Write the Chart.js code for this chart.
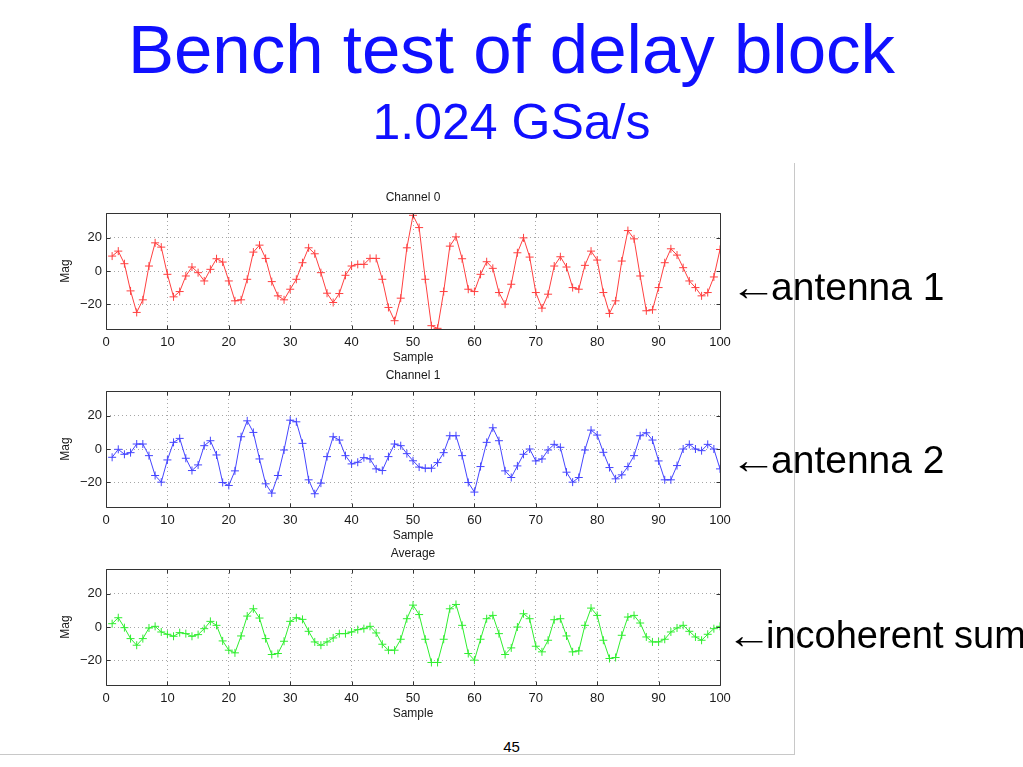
<!DOCTYPE html>
<html>
<head>
<meta charset="utf-8">
<title>Bench test of delay block</title>
<script src="https://cdn.jsdelivr.net/npm/chart.js@4.4.1/dist/chart.umd.min.js"></script>
<style>
  html, body { margin: 0; padding: 0; background: #fff; }
  body { width: 1023px; height: 767px; position: relative; overflow: hidden;
         font-family: 'Liberation Sans', Arial, Helvetica, sans-serif; }
  .title { position: absolute; left: 0; width: 1023px; text-align: center; color: #1010ff; line-height: 1; white-space: nowrap; }
  .main-title { top: 15px; font-size: 69px; }
  .sub-title { top: 97px; font-size: 50px; }
  .note { position: absolute; font-size: 39px; line-height: 1; color: #000; white-space: nowrap; }
  .note .arrow { display: inline-block; transform: scaleX(1.2); transform-origin: left center; margin-right: 2px; }
  .page-num { position: absolute; left: 0; width: 1023px; text-align: center; top: 739px; font-size: 15px; line-height: 1; color: #000; }
  .frame-v { position: absolute; left: 794px; top: 163px; width: 1px; height: 591px; background: #c8c8c8; }
  .frame-h { position: absolute; left: 0; top: 754px; width: 795px; height: 1px; background: #c8c8c8; }
  .plot { position: absolute; left: 50px; width: 690px; height: 180px; }
</style>
</head>
<body>
<div class="title main-title">Bench test of delay block</div>
<div class="title sub-title">1.024 GSa/s</div>

<div class="frame-v"></div>
<div class="frame-h"></div>

<div class="plot" style="top:185px"><canvas id="channel0Chart"></canvas></div>
<div class="plot" style="top:363px"><canvas id="channel1Chart"></canvas></div>
<div class="plot" style="top:541px"><canvas id="averageChart"></canvas></div>

<div class="note" style="left:730px; top:267px"><span class="arrow">←</span>antenna 1</div>
<div class="note" style="left:730px; top:440px"><span class="arrow">←</span>antenna 2</div>
<div class="note" style="left:726px; top:616px; font-size:38px"><span class="arrow">←</span>incoherent sum</div>

<div class="page-num">45</div>

<script>
const samples = [
  1, 2, 3, 4, 5, 6, 7, 8, 9, 10, 11, 12, 13, 14, 15, 16, 17, 18, 19, 20,
  21, 22, 23, 24, 25, 26, 27, 28, 29, 30, 31, 32, 33, 34, 35, 36, 37, 38, 39, 40,
  41, 42, 43, 44, 45, 46, 47, 48, 49, 50, 51, 52, 53, 54, 55, 56, 57, 58, 59, 60,
  61, 62, 63, 64, 65, 66, 67, 68, 69, 70, 71, 72, 73, 74, 75, 76, 77, 78, 79, 80,
  81, 82, 83, 84, 85, 86, 87, 88, 89, 90, 91, 92, 93, 94, 95, 96, 97, 98, 99, 100
];

const channel0 = [
  9, 12, 4.4, -12, -25, -17.4, 3, 17, 14.4, -2,
  -15.6, -12.4, -3, 2.4, -1, -6, 1, 7.4, 5.4, -6,
  -18, -17.4, -5, 11.4, 15.6, 7.6, -6.4, -15, -17.4, -11,
  -5, 5, 14, 10.4, -1, -13.4, -19, -13.6, -2.6, 3,
  4, 4, 7.6, 7.6, -5, -22, -30, -16.4, 14, 33.6,
  26.2, -5, -33, -34.6, -12.4, 15, 20.6, 7.4, -11, -12.4,
  -2, 5.6, 1.6, -13, -20, -8, 11, 20, 8.4, -13,
  -22.4, -14, 3, 8.6, 2.4, -10, -11, 3.4, 12, 6.6,
  -13, -25.6, -18, 6, 24.4, 19.4, -3, -24, -23.4, -10,
  5, 13.4, 9.6, 2, -6, -10, -15, -13, -3.6, 13
];

const channel1 = [
  -5, -0.2, -3.2, -2.2, 3, 3, -4, -16, -20, -6.6,
  4, 6.4, -5.6, -13, -9.6, 2, 5, -3.6, -20.2, -22,
  -13.2, 7.4, 17, 10, -6, -21, -26.6, -16, -0.6, 17.4,
  16.4, 3.4, -18.6, -27, -20.6, -4.6, 7.4, 5.4, -4, -9,
  -8, -5.2, -6, -12, -13, -4.6, 3, 2, -2.8, -7.1,
  -10.9, -11.6, -11.6, -8.2, -2.2, 8, 8, -4, -20.2, -26,
  -10.6, 4, 12.8, 5, -13.2, -17.2, -10.2, -3.2, 0, -7.2,
  -6, -0.6, 2.8, 1, -14, -20, -17.2, -0.6, 11.4, 8.4,
  -2, -11.2, -18, -15.6, -10.6, -4, 8, 9.8, 5.4, -7.2,
  -18.6, -18.6, -10, 0, 2.8, 0, -1, 2.8, 0, -12
];

const average = [
  2, 5.6, -0.4, -7, -11, -7, -0.6, 0.4, -3, -4.4,
  -5.6, -3.4, -4, -5.6, -4.6, -1, 3.4, 1, -8.4, -14,
  -15.6, -5.4, 6.6, 11, 5.4, -7, -16.6, -16, -8.6, 3.4,
  5.6, 4.6, -2.6, -9, -11, -9, -6.6, -4, -4, -3,
  -1.6, -1, 0.4, -3.6, -10.4, -14, -14, -7.4, 5, 13.2,
  7.5, -7.4, -21.4, -21.4, -7.4, 11, 13.6, 1, -16, -20,
  -7.4, 5, 7, -4, -16.6, -12.6, 0, 8, 5, -11.6,
  -15, -8, 4.4, 5, -5.4, -15, -14.4, 1, 11.4, 7,
  -8, -19, -18.4, -5, 6, 7, 2.4, -6, -9, -9,
  -7.4, -3, -0.6, 1, -2.6, -6, -8, -4.4, -1, 0.4
];

const xTicks = [0, 10, 20, 30, 40, 50, 60, 70, 80, 90, 100];
const yTicks = [-20, 0, 20];

const fontFamily = "'Liberation Sans', Arial, Helvetica, sans-serif";
const textColor = '#1a1a1a';

Chart.defaults.font.family = fontFamily;
Chart.defaults.color = textColor;

// matlab style axes box with short inward tick marks
const boxPlugin = {
  id: 'axesBox',
  afterDatasetsDraw(chart) {
    const { ctx, chartArea: a, scales } = chart;
    const left = Math.round(a.left) + 0.5;
    const right = Math.round(a.right) + 0.5;
    const top = Math.round(a.top) + 0.5;
    const bottom = Math.round(a.bottom) + 0.5;
    ctx.save();
    ctx.strokeStyle = '#333';
    ctx.lineWidth = 1;
    ctx.beginPath();
    ctx.rect(left, top, right - left, bottom - top);
    xTicks.forEach(v => {
      const px = Math.round(scales.x.getPixelForValue(v)) + 0.5;
      ctx.moveTo(px, bottom);
      ctx.lineTo(px, bottom - 4);
      ctx.moveTo(px, top);
      ctx.lineTo(px, top + 4);
    });
    yTicks.forEach(v => {
      const py = Math.round(scales.y.getPixelForValue(v)) + 0.5;
      ctx.moveTo(left, py);
      ctx.lineTo(left + 4, py);
      ctx.moveTo(right, py);
      ctx.lineTo(right - 4, py);
    });
    ctx.stroke();
    ctx.restore();
  }
};

const createPlot = (canvasId, title, values, color) => {
  const ctx = document.getElementById(canvasId).getContext('2d');
  return new Chart(ctx, {
    type: 'line',
    data: {
      datasets: [{
        label: title,
        data: samples.map((s, i) => ({ x: s, y: values[i] })),
        borderColor: color,
        backgroundColor: color,
        borderWidth: 1,
        tension: 0,
        pointStyle: 'cross',
        pointRadius: 4,
        pointBorderWidth: 1,
        pointBorderColor: color,
        fill: false
      }]
    },
    options: {
      responsive: true,
      maintainAspectRatio: false,
      animation: false,
      layout: { padding: { top: 0, right: 20, bottom: 0, left: 0 } },
      plugins: {
        legend: { display: false },
        title: { display: false },
        tooltip: { enabled: false }
      },
      scales: {
        x: {
          type: 'linear',
          min: 0,
          max: 100,
          afterBuildTicks: scale => { scale.ticks = xTicks.map(v => ({ value: v })); },
          afterFit: scale => { scale.height = 36; },
          grid: { color: 'rgba(0,0,0,0.35)', drawTicks: false, lineWidth: 1 },
          border: { display: false, dash: [1, 3] },
          ticks: { padding: 6, color: textColor, font: { size: 13 }, maxRotation: 0, autoSkip: false },
          title: { display: true, text: 'Sample', color: textColor, font: { size: 12 }, padding: 0 }
        },
        xTop: {
          type: 'linear',
          position: 'top',
          min: 0,
          max: 100,
          afterFit: scale => { scale.height = 28; },
          grid: { display: false },
          border: { display: false },
          ticks: { display: false },
          title: { display: true, text: title, color: textColor, font: { size: 12 }, padding: { top: 5, bottom: 0 } }
        },
        y: {
          type: 'linear',
          min: -35,
          max: 35,
          afterBuildTicks: scale => { scale.ticks = yTicks.map(v => ({ value: v })); },
          afterFit: scale => { scale.width = 56; },
          grid: { color: 'rgba(0,0,0,0.35)', drawTicks: false, lineWidth: 1 },
          border: { display: false, dash: [1, 3] },
          ticks: {
            padding: 4,
            color: textColor,
            font: { size: 13 },
            callback: v => (v < 0 ? '\u2212' + Math.abs(v) : String(v))
          },
          title: { display: true, text: 'Mag', color: textColor, font: { size: 12 }, padding: { top: 8, bottom: 0 } }
        }
      }
    },
    plugins: [boxPlugin]
  });
};

createPlot('channel0Chart', 'Channel 0', channel0, '#ff4040');
createPlot('channel1Chart', 'Channel 1', channel1, '#4545ff');
createPlot('averageChart', 'Average', average, '#30ee30');
</script>
</body>
</html>
